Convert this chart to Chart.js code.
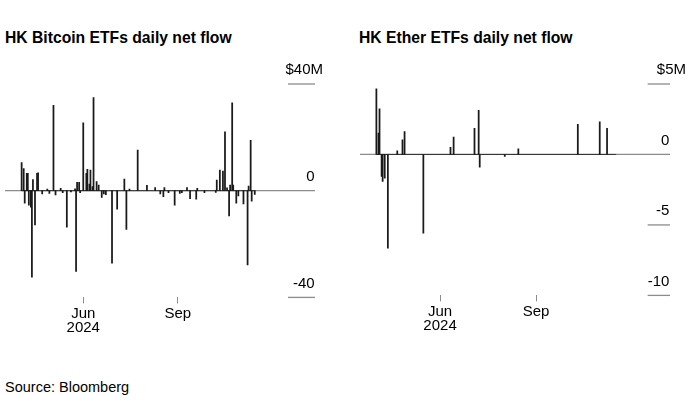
<!DOCTYPE html>
<html>
<head>
<meta charset="utf-8">
<script src="https://cdn.jsdelivr.net/npm/chart.js@4.4.1/dist/chart.umd.min.js"></script>
<style>
  body { margin: 0; background: #fff; font-family: 'Liberation Sans', Arial, sans-serif; color: #000; }
  .title { position: absolute; top: 28px; font-size: 15.7px; font-weight: bold; line-height: 20px; white-space: nowrap; }
  .panel { position: absolute; top: 0; height: 340px; }
  #source { position: absolute; left: 5px; top: 377px; font-size: 14.5px; line-height: 20px; }
</style>
</head>
<body>
<div class="title" style="left:5px">HK Bitcoin ETFs daily net flow</div>
<div class="title" style="left:359px">HK Ether ETFs daily net flow</div>
<div class="panel" style="left:0;width:330px"><canvas id="btc"></canvas></div>
<div class="panel" style="left:355px;width:341px"><canvas id="eth"></canvas></div>
<div id="source">Source: Bloomberg</div>
<script>
// days are day-of-year 2024 (Jan 1 = 1), flows in $M
const btcDays = [93, 95, 96, 98, 99, 100, 102, 103, 104, 106, 108, 109, 113, 118, 120, 124, 126, 131, 133, 137,
  141, 145, 146, 147, 149, 150, 153, 156, 157, 159, 160, 162, 163, 166, 168, 171, 173, 175, 181, 186,
  193, 195, 198, 206, 215, 223, 228, 231, 232, 236, 242, 247, 249, 254, 257, 263, 264, 271, 282, 283,
  286, 289, 291, 293, 295, 296, 298, 299, 302, 304, 309, 313, 314, 316, 317, 320];
const btcFlows = [10.5, 8.3, -4.7, 6.5, 6.5, -5.4, -6.2, -32.4, 4.2, -12.8, 6.5, 6.7, -1.2, 0.6, -1.0, 32.0, -1.6, 0.9, -0.7, -13.7,
  -0.5, 0.7, -30.3, 3.1, 3.1, -0.7, 25.4, 6.5, 8.0, 2.5, 7.7, 1.5, 34.9, 3.4, 2.1, -2.5, -1.2, -1.5, -27.2, -6.9,
  4.4, -14.5, 0.6, 15.2, 2.0, 1.2, -1.2, -2.2, 1.2, -0.7, -5.4, -1.0, -0.7, 1.2, -3.0, -3.2, 0.9, -0.7, -0.6, 4.0,
  7.7, 7.4, 22.1, 1.1, -9.5, 2.1, 32.9, 2.1, -4.7, -2.0, -5.0, -27.8, 1.7, 18.9, -3.9, -1.4];

const ethDays = [92, 94, 95, 97, 98, 100, 103, 112, 117, 119, 137, 163, 166, 186, 190, 191, 215, 228, 285, 306, 313, 321];
const ethFlows = [4.66, 1.51, 3.24, -1.56, -1.91, -1.68, -6.64, 0.26, 1.04, 1.63, -5.58, 0.51, 1.24, 1.85, 3.13, -0.91, -0.14, 0.4, 2.13, 2.31, 1.85, 0];

const monthTicks = [153, 245];
const monthLabels = [['Jun', '2024'], 'Sep'];

const btcTicks = [40, 0, -40];
const btcTickLabels = ['$40M', '0', '-40'];
const ethTicks = [5, 0, -5, -10];
const ethTickLabels = ['$5M', '0', '-5', '-10'];

// short tick rules under the right-hand labels, full rule at zero
const tickLines = {
  id: 'tickLines',
  beforeDatasetsDraw(chart, args, opts) {
    const { ctx, chartArea, scales: { y } } = chart;
    ctx.save();
    ctx.lineWidth = 1.3;
    ctx.strokeStyle = '#8c8c8c';
    y.ticks.forEach(t => {
      const py = y.getPixelForValue(t.value);
      const x0 = t.value === 0 ? chartArea.left : y.left + opts.lead;
      ctx.beginPath();
      ctx.moveTo(x0, py);
      ctx.lineTo(y.right - opts.inset, py);
      ctx.stroke();
    });
    ctx.restore();
  }
};

function makeChart(id, days, flows, yTicks, yLabels, cfg) {
  const bars = days.map((d, i) => ({ x: d, y: flows[i] }));
  return new Chart(document.getElementById(id), {
    type: 'bar',
    data: {
      datasets: [
        { data: bars, backgroundColor: '#1a1a1a', barThickness: 1.1, order: 1 },
        {
          type: 'line',
          data: [{ x: days[0], y: 0 }, { x: days[days.length - 1], y: 0 }],
          borderColor: '#333', borderWidth: 1, pointRadius: 0, order: 2
        }
      ]
    },
    options: {
      responsive: true,
      maintainAspectRatio: false,
      animation: false,
      layout: { padding: cfg.padding },
      plugins: {
        legend: { display: false },
        tooltip: { enabled: false },
        tickLines: { inset: cfg.inset, lead: cfg.lead }
      },
      scales: {
        x: {
          type: 'linear',
          min: cfg.xMin,
          max: cfg.xMax,
          offset: false,
          afterBuildTicks: s => { s.ticks = monthTicks.map(v => ({ value: v })); },
          ticks: {
            callback: v => monthLabels[monthTicks.indexOf(v)],
            autoSkip: false, maxRotation: 0, padding: 3, color: '#000',
            font: { family: 'Liberation Sans', size: 15, lineHeight: 0.97 }
          },
          grid: { drawOnChartArea: false, tickLength: 6, color: '#8c8c8c', offset: false },
          border: { display: false }
        },
        y: {
          position: 'right',
          min: yTicks[yTicks.length - 1],
          max: yTicks[0],
          afterBuildTicks: s => { s.ticks = yTicks.map(v => ({ value: v })); },
          ticks: {
            callback: (v) => {
              const i = yTicks.indexOf(v);
              return i === 0 ? yLabels[i] : yLabels[i] + cfg.pad;
            },
            crossAlign: 'far', labelOffset: -14, padding: 0, color: '#000',
            font: { family: 'Liberation Sans', size: 15 }
          },
          grid: { display: false, drawTicks: false },
          border: { display: false }
        }
      }
    },
    plugins: [tickLines]
  });
}

makeChart('btc', btcDays, btcFlows, btcTicks, btcTickLabels, {
  padding: { left: 5, right: 7, top: 84, bottom: 1.5 },
  xMin: 76.8, xMax: 349.9, pad: '  ', inset: 8, lead: 2.5
});

makeChart('eth', ethDays, ethFlows, ethTicks, ethTickLabels, {
  padding: { left: 5, right: 10, top: 84, bottom: 3.5 },
  xMin: 76.3, xMax: 351.9, pad: '    ', inset: 16, lead: 0
});
</script>
</body>
</html>
